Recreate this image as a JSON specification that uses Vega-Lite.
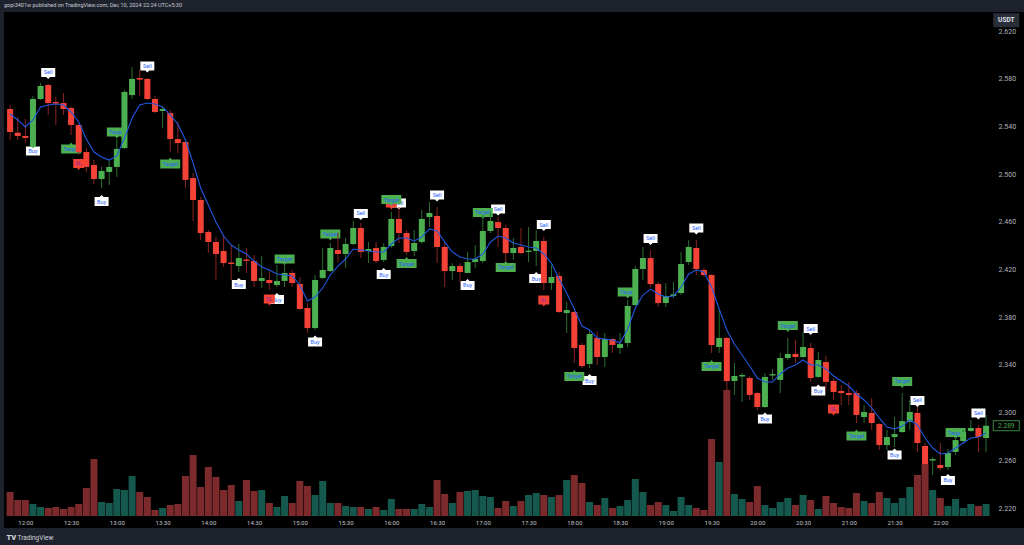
{
"$schema":"https://vega.github.io/schema/vega-lite/v6.json",
"width":1020,"height":516,
"autosize":{"type":"none"},
"padding":{"left":4,"top":12,"right":0,"bottom":17},
"background":"#1e222d",
"config":{"view":{"fill":"#000000","stroke":null},"font":"Roboto"},
"title":{"text":"gopi3401w published on TradingView.com, Dec 10, 2024 22:24 UTC+5:30","anchor":"start","frame":"group","fontSize":5.5,"fontWeight":"normal","color":"#c9cbd1","offset":3,"baseline":"bottom","dy":4},
"datasets":{
"candles":[
{"t":"2024-12-10T11:50","o":2.5546,"h":2.5579,"l":2.5286,"c":2.5353,"v":24,"ema":2.5504},
{"t":"2024-12-10T11:55","o":2.5347,"h":2.5479,"l":2.5286,"c":2.5320,"v":16,"ema":2.5454},
{"t":"2024-12-10T12:00","o":2.5320,"h":2.5462,"l":2.5261,"c":2.5303,"v":16,"ema":2.5395},
{"t":"2024-12-10T12:05","o":2.5227,"h":2.5655,"l":2.5219,"c":2.5630,"v":12,"ema":2.5454},
{"t":"2024-12-10T12:10","o":2.5630,"h":2.5764,"l":2.5622,"c":2.5739,"v":9,"ema":2.5563},
{"t":"2024-12-10T12:15","o":2.5747,"h":2.5756,"l":2.5496,"c":2.5596,"v":8,"ema":2.5579},
{"t":"2024-12-10T12:20","o":2.5605,"h":2.5647,"l":2.5412,"c":2.5592,"v":9,"ema":2.5588},
{"t":"2024-12-10T12:25","o":2.5596,"h":2.5680,"l":2.5496,"c":2.5546,"v":7,"ema":2.5579},
{"t":"2024-12-10T12:30","o":2.5554,"h":2.5563,"l":2.5328,"c":2.5412,"v":9,"ema":2.5521},
{"t":"2024-12-10T12:35","o":2.5412,"h":2.5420,"l":2.5160,"c":2.5185,"v":12,"ema":2.5437},
{"t":"2024-12-10T12:40","o":2.5185,"h":2.5219,"l":2.5018,"c":2.5060,"v":28,"ema":2.5294},
{"t":"2024-12-10T12:45","o":2.5076,"h":2.5118,"l":2.4917,"c":2.4959,"v":57,"ema":2.5185},
{"t":"2024-12-10T12:50","o":2.4959,"h":2.5060,"l":2.4883,"c":2.5026,"v":14,"ema":2.5143},
{"t":"2024-12-10T12:55","o":2.5018,"h":2.5118,"l":2.4909,"c":2.5060,"v":13,"ema":2.5118},
{"t":"2024-12-10T13:00","o":2.5060,"h":2.5294,"l":2.4976,"c":2.5211,"v":27,"ema":2.5152},
{"t":"2024-12-10T13:05","o":2.5219,"h":2.5705,"l":2.5211,"c":2.5689,"v":26,"ema":2.5303},
{"t":"2024-12-10T13:10","o":2.5663,"h":2.5898,"l":2.5630,"c":2.5798,"v":40,"ema":2.5470},
{"t":"2024-12-10T13:15","o":2.5806,"h":2.5873,"l":2.5655,"c":2.5792,"v":24,"ema":2.5579},
{"t":"2024-12-10T13:20","o":2.5798,"h":2.5806,"l":2.5622,"c":2.5630,"v":19,"ema":2.5596},
{"t":"2024-12-10T13:25","o":2.5630,"h":2.5655,"l":2.5512,"c":2.5521,"v":6,"ema":2.5588},
{"t":"2024-12-10T13:30","o":2.5529,"h":2.5563,"l":2.5387,"c":2.5546,"v":8,"ema":2.5563},
{"t":"2024-12-10T13:35","o":2.5512,"h":2.5538,"l":2.5185,"c":2.5294,"v":11,"ema":2.5496},
{"t":"2024-12-10T13:40","o":2.5294,"h":2.5437,"l":2.5177,"c":2.5261,"v":12,"ema":2.5420},
{"t":"2024-12-10T13:45","o":2.5269,"h":2.5294,"l":2.4883,"c":2.4951,"v":40,"ema":2.5286},
{"t":"2024-12-10T13:50","o":2.4967,"h":2.5009,"l":2.4607,"c":2.4783,"v":61,"ema":2.5093},
{"t":"2024-12-10T13:55","o":2.4783,"h":2.4808,"l":2.4447,"c":2.4506,"v":29,"ema":2.4883},
{"t":"2024-12-10T14:00","o":2.4515,"h":2.4531,"l":2.4338,"c":2.4431,"v":49,"ema":2.4741},
{"t":"2024-12-10T14:05","o":2.4431,"h":2.4473,"l":2.4112,"c":2.4330,"v":39,"ema":2.4598},
{"t":"2024-12-10T14:10","o":2.4355,"h":2.4489,"l":2.4221,"c":2.4254,"v":26,"ema":2.4481},
{"t":"2024-12-10T14:15","o":2.4258,"h":2.4405,"l":2.4112,"c":2.4246,"v":31,"ema":2.4405},
{"t":"2024-12-10T14:20","o":2.4229,"h":2.4414,"l":2.4179,"c":2.4296,"v":15,"ema":2.4364},
{"t":"2024-12-10T14:25","o":2.4284,"h":2.4380,"l":2.4171,"c":2.4272,"v":36,"ema":2.4330},
{"t":"2024-12-10T14:30","o":2.4271,"h":2.4322,"l":2.4053,"c":2.4104,"v":25,"ema":2.4271},
{"t":"2024-12-10T14:35","o":2.4104,"h":2.4313,"l":2.4045,"c":2.4129,"v":26,"ema":2.4221},
{"t":"2024-12-10T14:40","o":2.4112,"h":2.4196,"l":2.4028,"c":2.4087,"v":13,"ema":2.4196},
{"t":"2024-12-10T14:45","o":2.4070,"h":2.4238,"l":2.4053,"c":2.4104,"v":9,"ema":2.4162},
{"t":"2024-12-10T14:50","o":2.4104,"h":2.4254,"l":2.4053,"c":2.4171,"v":20,"ema":2.4154},
{"t":"2024-12-10T14:55","o":2.4171,"h":2.4196,"l":2.4053,"c":2.4087,"v":13,"ema":2.4146},
{"t":"2024-12-10T15:00","o":2.4078,"h":2.4137,"l":2.3860,"c":2.3869,"v":35,"ema":2.4070},
{"t":"2024-12-10T15:05","o":2.3877,"h":2.3919,"l":2.3668,"c":2.3709,"v":30,"ema":2.3936},
{"t":"2024-12-10T15:10","o":2.3709,"h":2.4154,"l":2.3693,"c":2.4112,"v":21,"ema":2.3969},
{"t":"2024-12-10T15:15","o":2.4129,"h":2.4380,"l":2.4120,"c":2.4196,"v":35,"ema":2.4045},
{"t":"2024-12-10T15:20","o":2.4187,"h":2.4422,"l":2.4179,"c":2.4380,"v":13,"ema":2.4154},
{"t":"2024-12-10T15:25","o":2.4364,"h":2.4506,"l":2.4263,"c":2.4330,"v":13,"ema":2.4229},
{"t":"2024-12-10T15:30","o":2.4330,"h":2.4464,"l":2.4213,"c":2.4414,"v":10,"ema":2.4288},
{"t":"2024-12-10T15:35","o":2.4414,"h":2.4607,"l":2.4405,"c":2.4548,"v":9,"ema":2.4372},
{"t":"2024-12-10T15:40","o":2.4548,"h":2.4590,"l":2.4296,"c":2.4347,"v":9,"ema":2.4364},
{"t":"2024-12-10T15:45","o":2.4355,"h":2.4431,"l":2.4254,"c":2.4372,"v":7,"ema":2.4355},
{"t":"2024-12-10T15:50","o":2.4380,"h":2.4431,"l":2.4254,"c":2.4271,"v":9,"ema":2.4347},
{"t":"2024-12-10T15:55","o":2.4280,"h":2.4422,"l":2.4263,"c":2.4389,"v":6,"ema":2.4347},
{"t":"2024-12-10T16:00","o":2.4397,"h":2.4682,"l":2.4380,"c":2.4624,"v":17,"ema":2.4414},
{"t":"2024-12-10T16:05","o":2.4624,"h":2.4724,"l":2.4422,"c":2.4506,"v":7,"ema":2.4464},
{"t":"2024-12-10T16:10","o":2.4506,"h":2.4531,"l":2.4322,"c":2.4347,"v":7,"ema":2.4464},
{"t":"2024-12-10T16:15","o":2.4355,"h":2.4531,"l":2.4313,"c":2.4422,"v":7,"ema":2.4439},
{"t":"2024-12-10T16:20","o":2.4431,"h":2.4699,"l":2.4414,"c":2.4624,"v":12,"ema":2.4473},
{"t":"2024-12-10T16:25","o":2.4640,"h":2.4766,"l":2.4556,"c":2.4674,"v":9,"ema":2.4540},
{"t":"2024-12-10T16:30","o":2.4649,"h":2.4724,"l":2.4254,"c":2.4389,"v":36,"ema":2.4523},
{"t":"2024-12-10T16:35","o":2.4389,"h":2.4431,"l":2.4053,"c":2.4187,"v":22,"ema":2.4431},
{"t":"2024-12-10T16:40","o":2.4187,"h":2.4254,"l":2.4112,"c":2.4229,"v":13,"ema":2.4347},
{"t":"2024-12-10T16:45","o":2.4229,"h":2.4254,"l":2.4095,"c":2.4179,"v":24,"ema":2.4305},
{"t":"2024-12-10T16:50","o":2.4171,"h":2.4347,"l":2.4171,"c":2.4263,"v":25,"ema":2.4288},
{"t":"2024-12-10T16:55","o":2.4263,"h":2.4405,"l":2.4213,"c":2.4288,"v":26,"ema":2.4288},
{"t":"2024-12-10T17:00","o":2.4271,"h":2.4657,"l":2.4254,"c":2.4523,"v":20,"ema":2.4330},
{"t":"2024-12-10T17:05","o":2.4523,"h":2.4674,"l":2.4506,"c":2.4607,"v":19,"ema":2.4431},
{"t":"2024-12-10T17:10","o":2.4598,"h":2.4640,"l":2.4389,"c":2.4548,"v":8,"ema":2.4481},
{"t":"2024-12-10T17:15","o":2.4548,"h":2.4573,"l":2.4263,"c":2.4338,"v":15,"ema":2.4464},
{"t":"2024-12-10T17:20","o":2.4338,"h":2.4464,"l":2.4280,"c":2.4380,"v":10,"ema":2.4422},
{"t":"2024-12-10T17:25","o":2.4389,"h":2.4548,"l":2.4330,"c":2.4338,"v":15,"ema":2.4405},
{"t":"2024-12-10T17:30","o":2.4347,"h":2.4556,"l":2.4263,"c":2.4358,"v":21,"ema":2.4389},
{"t":"2024-12-10T17:35","o":2.4355,"h":2.4531,"l":2.4229,"c":2.4439,"v":23,"ema":2.4380},
{"t":"2024-12-10T17:40","o":2.4439,"h":2.4473,"l":2.4028,"c":2.4087,"v":21,"ema":2.4330},
{"t":"2024-12-10T17:45","o":2.4087,"h":2.4238,"l":2.4028,"c":2.4137,"v":19,"ema":2.4254},
{"t":"2024-12-10T17:50","o":2.4146,"h":2.4179,"l":2.3835,"c":2.3844,"v":21,"ema":2.4120},
{"t":"2024-12-10T17:55","o":2.3835,"h":2.3927,"l":2.3668,"c":2.3860,"v":36,"ema":2.4003},
{"t":"2024-12-10T18:00","o":2.3844,"h":2.3852,"l":2.3416,"c":2.3542,"v":41,"ema":2.3869},
{"t":"2024-12-10T18:05","o":2.3567,"h":2.3584,"l":2.3374,"c":2.3391,"v":33,"ema":2.3726},
{"t":"2024-12-10T18:10","o":2.3408,"h":2.3693,"l":2.3374,"c":2.3659,"v":14,"ema":2.3693},
{"t":"2024-12-10T18:15","o":2.3626,"h":2.3676,"l":2.3399,"c":2.3466,"v":11,"ema":2.3626},
{"t":"2024-12-10T18:20","o":2.3466,"h":2.3668,"l":2.3382,"c":2.3617,"v":18,"ema":2.3617},
{"t":"2024-12-10T18:25","o":2.3617,"h":2.3626,"l":2.3500,"c":2.3567,"v":8,"ema":2.3609},
{"t":"2024-12-10T18:30","o":2.3542,"h":2.3668,"l":2.3492,"c":2.3575,"v":10,"ema":2.3584},
{"t":"2024-12-10T18:35","o":2.3584,"h":2.3944,"l":2.3550,"c":2.3894,"v":16,"ema":2.3701},
{"t":"2024-12-10T18:40","o":2.3902,"h":2.4229,"l":2.3894,"c":2.4204,"v":37,"ema":2.3877},
{"t":"2024-12-10T18:45","o":2.4204,"h":2.4389,"l":2.4112,"c":2.4296,"v":24,"ema":2.3986},
{"t":"2024-12-10T18:50","o":2.4296,"h":2.4364,"l":2.4053,"c":2.4078,"v":11,"ema":2.4036},
{"t":"2024-12-10T18:55","o":2.4078,"h":2.4095,"l":2.3886,"c":2.3919,"v":14,"ema":2.3995},
{"t":"2024-12-10T19:00","o":2.3919,"h":2.4087,"l":2.3886,"c":2.3978,"v":11,"ema":2.3969},
{"t":"2024-12-10T19:05","o":2.3978,"h":2.4095,"l":2.3961,"c":2.3992,"v":5,"ema":2.3978},
{"t":"2024-12-10T19:10","o":2.4003,"h":2.4347,"l":2.3986,"c":2.4246,"v":19,"ema":2.4053},
{"t":"2024-12-10T19:15","o":2.4263,"h":2.4447,"l":2.4238,"c":2.4389,"v":11,"ema":2.4162},
{"t":"2024-12-10T19:20","o":2.4380,"h":2.4447,"l":2.4154,"c":2.4204,"v":8,"ema":2.4196},
{"t":"2024-12-10T19:25","o":2.4196,"h":2.4213,"l":2.4137,"c":2.4154,"v":6,"ema":2.4179},
{"t":"2024-12-10T19:30","o":2.4154,"h":2.4160,"l":2.3500,"c":2.3567,"v":77,"ema":2.4053},
{"t":"2024-12-10T19:35","o":2.3550,"h":2.3860,"l":2.3500,"c":2.3626,"v":54,"ema":2.3869},
{"t":"2024-12-10T19:40","o":2.3626,"h":2.3634,"l":2.3190,"c":2.3265,"v":126,"ema":2.3693},
{"t":"2024-12-10T19:45","o":2.3265,"h":2.3416,"l":2.3148,"c":2.3307,"v":22,"ema":2.3575},
{"t":"2024-12-10T19:50","o":2.3303,"h":2.3332,"l":2.3089,"c":2.3315,"v":17,"ema":2.3483},
{"t":"2024-12-10T19:55","o":2.3290,"h":2.3307,"l":2.3106,"c":2.3148,"v":14,"ema":2.3391},
{"t":"2024-12-10T20:00","o":2.3164,"h":2.3173,"l":2.3022,"c":2.3047,"v":30,"ema":2.3290},
{"t":"2024-12-10T20:05","o":2.3047,"h":2.3332,"l":2.3039,"c":2.3299,"v":11,"ema":2.3257},
{"t":"2024-12-10T20:10","o":2.3311,"h":2.3366,"l":2.3274,"c":2.3323,"v":8,"ema":2.3257},
{"t":"2024-12-10T20:15","o":2.3274,"h":2.3500,"l":2.3164,"c":2.3458,"v":14,"ema":2.3324},
{"t":"2024-12-10T20:20","o":2.3458,"h":2.3626,"l":2.3441,"c":2.3492,"v":18,"ema":2.3374},
{"t":"2024-12-10T20:25","o":2.3492,"h":2.3609,"l":2.3416,"c":2.3466,"v":11,"ema":2.3399},
{"t":"2024-12-10T20:30","o":2.3466,"h":2.3676,"l":2.3458,"c":2.3550,"v":21,"ema":2.3441},
{"t":"2024-12-10T20:35","o":2.3542,"h":2.3584,"l":2.3257,"c":2.3290,"v":16,"ema":2.3399},
{"t":"2024-12-10T20:40","o":2.3299,"h":2.3508,"l":2.3290,"c":2.3441,"v":7,"ema":2.3399},
{"t":"2024-12-10T20:45","o":2.3424,"h":2.3475,"l":2.3190,"c":2.3257,"v":20,"ema":2.3366},
{"t":"2024-12-10T20:50","o":2.3265,"h":2.3290,"l":2.3106,"c":2.3173,"v":13,"ema":2.3307},
{"t":"2024-12-10T20:55","o":2.3181,"h":2.3231,"l":2.3064,"c":2.3164,"v":9,"ema":2.3265},
{"t":"2024-12-10T21:00","o":2.3164,"h":2.3257,"l":2.3064,"c":2.3148,"v":8,"ema":2.3223},
{"t":"2024-12-10T21:05","o":2.3164,"h":2.3190,"l":2.2913,"c":2.2980,"v":23,"ema":2.3156},
{"t":"2024-12-10T21:10","o":2.2963,"h":2.3064,"l":2.2913,"c":2.3005,"v":15,"ema":2.3106},
{"t":"2024-12-10T21:15","o":2.2997,"h":2.3122,"l":2.2854,"c":2.2913,"v":13,"ema":2.3039},
{"t":"2024-12-10T21:20","o":2.2904,"h":2.2913,"l":2.2686,"c":2.2728,"v":24,"ema":2.2955},
{"t":"2024-12-10T21:25","o":2.2728,"h":2.2854,"l":2.2686,"c":2.2795,"v":18,"ema":2.2879},
{"t":"2024-12-10T21:30","o":2.2795,"h":2.2963,"l":2.2712,"c":2.2820,"v":13,"ema":2.2862},
{"t":"2024-12-10T21:35","o":2.2837,"h":2.3164,"l":2.2829,"c":2.2929,"v":18,"ema":2.2887},
{"t":"2024-12-10T21:40","o":2.2921,"h":2.3106,"l":2.2854,"c":2.3005,"v":29,"ema":2.2938},
{"t":"2024-12-10T21:45","o":2.2997,"h":2.3047,"l":2.2670,"c":2.2745,"v":41,"ema":2.2896},
{"t":"2024-12-10T21:50","o":2.2720,"h":2.2745,"l":2.2552,"c":2.2569,"v":52,"ema":2.2787},
{"t":"2024-12-10T21:55","o":2.2598,"h":2.2627,"l":2.2477,"c":2.2610,"v":26,"ema":2.2703},
{"t":"2024-12-10T22:00","o":2.2561,"h":2.2745,"l":2.2519,"c":2.2535,"v":18,"ema":2.2653},
{"t":"2024-12-10T22:05","o":2.2544,"h":2.2695,"l":2.2519,"c":2.2661,"v":10,"ema":2.2661},
{"t":"2024-12-10T22:10","o":2.2670,"h":2.2795,"l":2.2644,"c":2.2770,"v":17,"ema":2.2703},
{"t":"2024-12-10T22:15","o":2.2762,"h":2.2854,"l":2.2745,"c":2.2837,"v":8,"ema":2.2745},
{"t":"2024-12-10T22:20","o":2.2846,"h":2.2938,"l":2.2837,"c":2.2871,"v":12,"ema":2.2787},
{"t":"2024-12-10T22:25","o":2.2871,"h":2.2896,"l":2.2670,"c":2.2795,"v":10,"ema":2.2795},
{"t":"2024-12-10T22:30","o":2.2787,"h":2.2980,"l":2.2670,"c":2.2890,"v":12,"ema":2.2829}
],
"labels":[
{"t":"2024-12-10T12:15","kind":"Sell","dir":"down","p":2.5852},
{"t":"2024-12-10T13:20","kind":"Sell","dir":"down","p":2.5907},
{"t":"2024-12-10T12:05","kind":"Buy","dir":"up","p":2.5194},
{"t":"2024-12-10T12:30","kind":"Target","dir":"up","p":2.5211},
{"t":"2024-12-10T12:35","kind":"SL","dir":"down","p":2.5089},
{"t":"2024-12-10T13:00","kind":"Target","dir":"down","p":2.5353},
{"t":"2024-12-10T13:35","kind":"Target","dir":"up","p":2.5085},
{"t":"2024-12-10T12:50","kind":"Buy","dir":"up","p":2.4770},
{"t":"2024-12-10T14:20","kind":"Buy","dir":"up","p":2.4074},
{"t":"2024-12-10T14:40","kind":"SL","dir":"down","p":2.3953},
{"t":"2024-12-10T14:45","kind":"Buy","dir":"up","p":2.3948},
{"t":"2024-12-10T14:50","kind":"Target","dir":"down","p":2.4288},
{"t":"2024-12-10T15:10","kind":"Buy","dir":"up","p":2.3592},
{"t":"2024-12-10T15:20","kind":"Target","dir":"down","p":2.4498},
{"t":"2024-12-10T15:40","kind":"Sell","dir":"down","p":2.4670},
{"t":"2024-12-10T15:55","kind":"Buy","dir":"up","p":2.4158},
{"t":"2024-12-10T16:05","kind":"Sell","dir":"down","p":2.4758},
{"t":"2024-12-10T16:00","kind":"SL","dir":"down","p":2.4758},
{"t":"2024-12-10T16:00","kind":"Target","dir":"down","p":2.4787},
{"t":"2024-12-10T16:10","kind":"Target","dir":"up","p":2.4250},
{"t":"2024-12-10T16:30","kind":"Sell","dir":"down","p":2.4825},
{"t":"2024-12-10T16:50","kind":"Buy","dir":"up","p":2.4066},
{"t":"2024-12-10T17:00","kind":"Target","dir":"down","p":2.4678},
{"t":"2024-12-10T17:10","kind":"Sell","dir":"down","p":2.4707},
{"t":"2024-12-10T17:15","kind":"Target","dir":"up","p":2.4217},
{"t":"2024-12-10T17:35","kind":"Buy","dir":"up","p":2.4124},
{"t":"2024-12-10T17:40","kind":"Sell","dir":"down","p":2.4577},
{"t":"2024-12-10T17:40","kind":"SL","dir":"down","p":2.3944},
{"t":"2024-12-10T18:00","kind":"Target","dir":"up","p":2.3303},
{"t":"2024-12-10T18:10","kind":"Buy","dir":"up","p":2.3269},
{"t":"2024-12-10T18:35","kind":"Target","dir":"down","p":2.4011},
{"t":"2024-12-10T18:50","kind":"Sell","dir":"down","p":2.4460},
{"t":"2024-12-10T19:20","kind":"Sell","dir":"down","p":2.4548},
{"t":"2024-12-10T19:30","kind":"Target","dir":"up","p":2.3387},
{"t":"2024-12-10T20:05","kind":"Buy","dir":"up","p":2.2946},
{"t":"2024-12-10T20:20","kind":"Target","dir":"down","p":2.3730},
{"t":"2024-12-10T20:35","kind":"Sell","dir":"down","p":2.3705},
{"t":"2024-12-10T20:40","kind":"Buy","dir":"up","p":2.3181},
{"t":"2024-12-10T20:50","kind":"SL","dir":"down","p":2.3030},
{"t":"2024-12-10T21:05","kind":"Target","dir":"up","p":2.2804},
{"t":"2024-12-10T21:30","kind":"Buy","dir":"up","p":2.2644},
{"t":"2024-12-10T21:35","kind":"Target","dir":"down","p":2.3261},
{"t":"2024-12-10T21:45","kind":"Sell","dir":"down","p":2.3102},
{"t":"2024-12-10T22:05","kind":"Buy","dir":"up","p":2.2431},
{"t":"2024-12-10T22:10","kind":"Target","dir":"down","p":2.2833},
{"t":"2024-12-10T22:25","kind":"Sell","dir":"down","p":2.2997}
],
"marker":[{"unit":"USDT","last":2.289}]
},
"resolve":{"scale":{"y":"independent"}},
"layer":[
{
"data":{"name":"candles"},
"mark":{"type":"bar","width":7,"clip":true},
"encoding":{
"x":{"field":"t","type":"temporal",
"scale":{"domain":[{"year":2024,"month":12,"date":10,"hours":11,"minutes":49,"seconds":17},{"year":2024,"month":12,"date":10,"hours":22,"minutes":51,"seconds":36}]},
"axis":{"title":"TradingView","titleX":13,"titleY":21,"titleAlign":"left","titleBaseline":"middle","titleFontSize":6.5,"titleFontWeight":"normal","titleColor":"#d1d4dc","offset":-12,
"values":[{"year":2024,"month":12,"date":10,"hours":12,"minutes":0},{"year":2024,"month":12,"date":10,"hours":12,"minutes":30},{"year":2024,"month":12,"date":10,"hours":13,"minutes":0},{"year":2024,"month":12,"date":10,"hours":13,"minutes":30},{"year":2024,"month":12,"date":10,"hours":14,"minutes":0},{"year":2024,"month":12,"date":10,"hours":14,"minutes":30},{"year":2024,"month":12,"date":10,"hours":15,"minutes":0},{"year":2024,"month":12,"date":10,"hours":15,"minutes":30},{"year":2024,"month":12,"date":10,"hours":16,"minutes":0},{"year":2024,"month":12,"date":10,"hours":16,"minutes":30},{"year":2024,"month":12,"date":10,"hours":17,"minutes":0},{"year":2024,"month":12,"date":10,"hours":17,"minutes":30},{"year":2024,"month":12,"date":10,"hours":18,"minutes":0},{"year":2024,"month":12,"date":10,"hours":18,"minutes":30},{"year":2024,"month":12,"date":10,"hours":19,"minutes":0},{"year":2024,"month":12,"date":10,"hours":19,"minutes":30},{"year":2024,"month":12,"date":10,"hours":20,"minutes":0},{"year":2024,"month":12,"date":10,"hours":20,"minutes":30},{"year":2024,"month":12,"date":10,"hours":21,"minutes":0},{"year":2024,"month":12,"date":10,"hours":21,"minutes":30},{"year":2024,"month":12,"date":10,"hours":22,"minutes":0}],
"format":"%H:%M","labelFontSize":6,"labelColor":"#c3c6ce","labelPadding":3,"ticks":false,"domain":false,"grid":false,"labelFlush":false,"labelOverlap":false}},
"y":{"field":"v","type":"quantitative","scale":{"domain":[-12,504],"nice":false,"zero":false},"axis":null},
"y2":{"datum":0},
"color":{"condition":{"test":"datum.c >= datum.o","value":"#15594e"},"value":"#7d2a2c"}
}
},
{
"resolve":{"scale":{"shape":"independent"}},
"layer":[
{
"data":{"name":"labels"},
"transform":[{"filter":"datum.kind == 'Sell' || datum.kind == 'Buy'"}],
"mark":{"type":"point","filled":true,"opacity":1,"size":196,"color":"#ffffff","strokeWidth":0},
"encoding":{
"x":{"field":"t","type":"temporal"},
"y":{"field":"p","type":"quantitative","scale":{"domain":[2.203229,2.635933],"nice":false,"zero":false},
"axis":{"orient":"right","offset":-32,"title":"TV","titleAngle":0,"titleX":-986,"titleY":525,"titleAlign":"left","titleBaseline":"middle","titleFontSize":7.5,"titleFontWeight":900,"titleColor":"#d1d4dc",
"values":[2.22,2.24,2.26,2.28,2.30,2.32,2.34,2.36,2.38,2.40,2.42,2.44,2.46,2.48,2.50,2.52,2.54,2.56,2.58,2.60,2.62],
"format":".3f","labelFontSize":7,"labelColor":"#b2b5be","labelPadding":6,"ticks":false,"domain":false,"grid":false,"labelFlush":false,"labelOverlap":false}},
"shape":{"field":"dir","type":"nominal","legend":null,"scale":{"domain":["down","up"],"range":["M-1,-0.643H1V0.643H0.286L0,0.929L-0.286,0.643H-1Z","M-1,0.643H1V-0.643H0.286L0,-0.929L-0.286,-0.643H-1Z"]}}
}
},
{
"data":{"name":"labels"},
"transform":[{"filter":"datum.kind == 'Sell' || datum.kind == 'Buy'"}],
"mark":{"type":"text","fontSize":5.5,"color":"#2962ff","baseline":"middle","align":"center"},
"encoding":{"x":{"field":"t","type":"temporal"},"y":{"field":"p","type":"quantitative"},"text":{"field":"kind"}}
},
{
"data":{"name":"labels"},
"transform":[{"filter":"datum.kind == 'SL'"}],
"mark":{"type":"point","filled":true,"opacity":1,"size":121,"color":"#f44336","strokeWidth":0},
"encoding":{
"x":{"field":"t","type":"temporal"},"y":{"field":"p","type":"quantitative"},
"shape":{"field":"dir","type":"nominal","legend":null,"scale":{"domain":["down","up"],"range":["M-1,-0.818H1V0.818H0.273L0,1.182L-0.273,0.818H-1Z","M-1,0.818H1V-0.818H0.273L0,-1.182L-0.273,-0.818H-1Z"]}}
}
},
{
"data":{"name":"labels"},
"transform":[{"filter":"datum.kind == 'SL'"}],
"mark":{"type":"text","fontSize":5.5,"color":"#8e24aa","baseline":"middle","align":"center"},
"encoding":{"x":{"field":"t","type":"temporal"},"y":{"field":"p","type":"quantitative"},"text":{"field":"kind"}}
},
{
"data":{"name":"labels"},
"transform":[{"filter":"datum.kind == 'Target'"}],
"mark":{"type":"point","filled":true,"opacity":1,"size":400,"color":"#4caf50","strokeWidth":0},
"encoding":{
"x":{"field":"t","type":"temporal"},"y":{"field":"p","type":"quantitative"},
"shape":{"field":"dir","type":"nominal","legend":null,"scale":{"domain":["down","up"],"range":["M-1,-0.45H1V0.45H0.15L0,0.65L-0.15,0.45H-1Z","M-1,0.45H1V-0.45H0.15L0,-0.65L-0.15,-0.45H-1Z"]}}
}
},
{
"data":{"name":"labels"},
"transform":[{"filter":"datum.kind == 'Target'"}],
"mark":{"type":"text","fontSize":5.5,"color":"#2962ff","baseline":"middle","align":"center"},
"encoding":{"x":{"field":"t","type":"temporal"},"y":{"field":"p","type":"quantitative"},"text":{"field":"kind"}}
},
{
"data":{"name":"candles"},
"mark":{"type":"rule","strokeWidth":1,"clip":true},
"encoding":{
"x":{"field":"t","type":"temporal"},
"y":{"field":"l","type":"quantitative"},
"y2":{"field":"h"},
"color":{"condition":{"test":"datum.c >= datum.o","value":"#2b6e2f"},"value":"#8a2323"}
}
},
{
"data":{"name":"candles"},
"mark":{"type":"bar","width":6,"clip":true},
"encoding":{
"x":{"field":"t","type":"temporal"},
"y":{"field":"o","type":"quantitative"},
"y2":{"field":"c"},
"color":{"condition":{"test":"datum.c >= datum.o","value":"#4caf50"},"value":"#f44336"}
}
},
{
"data":{"name":"candles"},
"mark":{"type":"line","color":"#2158e0","strokeWidth":1.1,"clip":true},
"encoding":{"x":{"field":"t","type":"temporal"},"y":{"field":"ema","type":"quantitative"}}
},
{
"data":{"name":"marker"},
"mark":{"type":"point","filled":true,"opacity":1,"size":676,"color":"#2a2e39","strokeWidth":0,"shape":"M-1,-0.538H1V0.538H-1Z"},
"encoding":{"x":{"datum":{"year":2024,"month":12,"date":10,"hours":22,"minutes":43,"seconds":15},"type":"temporal"},"y":{"datum":2.6290}}
},
{
"data":{"name":"marker"},
"mark":{"type":"text","fontSize":6.5,"fontWeight":"bold","color":"#e0e3eb","baseline":"middle","align":"center"},
"encoding":{"x":{"datum":{"year":2024,"month":12,"date":10,"hours":22,"minutes":43,"seconds":15},"type":"temporal"},"y":{"datum":2.6290},"text":{"field":"unit"}}
},
{
"data":{"name":"marker"},
"mark":{"type":"point","filled":true,"opacity":1,"size":676,"color":"#000000","stroke":"#4caf50","strokeWidth":0.8,"shape":"M-1,-0.385H1V0.385H-1Z"},
"encoding":{"x":{"datum":{"year":2024,"month":12,"date":10,"hours":22,"minutes":43,"seconds":15},"type":"temporal"},"y":{"field":"last","type":"quantitative"}}
},
{
"data":{"name":"marker"},
"mark":{"type":"text","fontSize":6.5,"color":"#4caf50","baseline":"middle","align":"center"},
"encoding":{"x":{"datum":{"year":2024,"month":12,"date":10,"hours":22,"minutes":43,"seconds":15},"type":"temporal"},"y":{"field":"last","type":"quantitative"},"text":{"field":"last","type":"quantitative","format":".3f"}}
}
]
}
]
}
